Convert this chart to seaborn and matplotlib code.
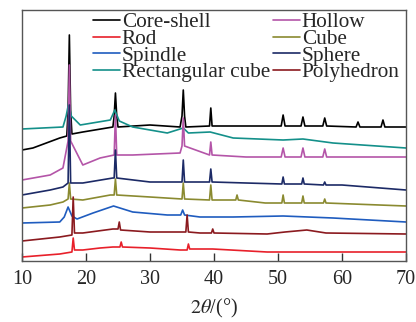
import matplotlib
matplotlib.use("Agg")
import matplotlib.pyplot as plt
import seaborn as sns
import pandas as pd

# ---- data (2theta in degrees, intensity offset in arbitrary units) ----
series_names = ["Core-shell", "Rod", "Spindle", "Rectangular cube",
                "Hollow", "Cube", "Sphere", "Polyhedron"]
colors = ["#000000", "#e8202a", "#1f5cbf", "#14908a",
          "#b455a8", "#8a8a30", "#1c2a66", "#8b1a1f"]

core_x = [10, 11.7, 15.9, 17.0, 17.2, 17.4, 17.6, 17.8, 19.5, 24.2, 24.4, 24.6, 24.8, 25.0, 30, 34.7, 35.0, 35.2, 35.4, 35.6, 39.3, 39.5, 39.7, 45, 50.5, 50.8, 51.1, 53.6, 53.9, 54.2, 57.0, 57.3, 57.6, 62.2, 62.5, 62.8, 66.1, 66.4, 66.7, 70]
core_y = [111, 113, 123, 125, 150, 226, 150, 127, 129, 134, 145, 168, 145, 134, 136, 134, 145, 171, 145, 134, 135, 153, 135, 135, 135, 146, 135, 135, 144, 135, 135, 143, 135, 134, 139, 134, 134, 141, 134, 134]

rod_x = [10, 15.9, 17.8, 18.0, 18.2, 19.5, 22.2, 24.2, 25.3, 25.5, 25.7, 30, 34.7, 35.8, 36.0, 36.2, 39.8, 48.3, 58.6, 70]
rod_y = [4, 7, 9, 23, 11, 11, 13, 14, 14, 19, 14, 13, 11, 11, 17, 12, 12, 9, 9, 9]

spin_x = [10, 15.9, 16.6, 17.2, 17.8, 18.6, 21.1, 24.3, 27.3, 32.7, 34.8, 35.1, 35.4, 37.8, 43, 50.8, 58.6, 70]
spin_y = [38, 39, 44, 54, 45, 42, 48, 55, 49, 46, 46, 51, 46, 44, 44, 45, 43, 39]

rect_x = [10, 16.4, 16.9, 17.3, 17.7, 19.1, 23.8, 24.5, 25.2, 27.3, 32.7, 35.2, 36.0, 39.4, 43, 50.8, 53.9, 58.6, 70]
rect_y = [132, 134, 145, 158, 145, 136, 141, 151, 140, 134, 128, 133, 128, 129, 123, 121, 122, 118, 113]

hol_x = [10, 14.4, 16.4, 17.2, 17.4, 17.6, 19.5, 22.2, 24.4, 24.6, 24.8, 27.3, 34.7, 35.0, 35.2, 35.4, 39.3, 39.5, 39.7, 45, 50.5, 50.8, 51.1, 53.6, 53.9, 54.2, 57.0, 57.3, 57.6, 70]
hol_y = [81, 86, 93, 120, 196, 120, 96, 103, 106, 146, 106, 106, 108, 115, 143, 115, 106, 119, 106, 104, 104, 113, 104, 104, 113, 104, 104, 112, 104, 104]

cube_x = [10, 14.4, 16.4, 17.2, 17.4, 17.6, 19.5, 23.8, 24.4, 24.6, 24.8, 30, 35.0, 35.2, 35.4, 39.3, 39.5, 39.7, 43.4, 43.6, 43.8, 48, 50.6, 50.8, 51.0, 53.7, 53.9, 54.1, 57.1, 57.3, 57.5, 70]
cube_y = [53, 56, 59, 62, 78, 62, 61, 66, 66, 82, 66, 64, 62, 78, 62, 61, 76, 61, 61, 66, 61, 58, 58, 66, 58, 58, 65, 58, 58, 62, 58, 55]

sph_x = [10, 14.4, 16.4, 17.2, 17.4, 17.6, 19.5, 24.2, 24.4, 24.6, 24.8, 30, 35.0, 35.2, 35.4, 39.3, 39.5, 39.7, 45, 50.6, 50.8, 51.0, 53.7, 53.9, 54.1, 57.1, 57.3, 57.5, 60, 70]
sph_y = [66, 71, 74, 78, 156, 78, 78, 83, 83, 111, 83, 79, 79, 101, 79, 79, 92, 79, 78, 77, 84, 77, 77, 83, 77, 76, 79, 76, 76, 71]

poly_x = [10, 15.9, 17.8, 18.0, 18.2, 19.5, 24.2, 25.0, 25.2, 25.4, 30, 35.6, 35.8, 36.0, 37.8, 39.6, 39.8, 40.0, 48.3, 51.1, 54.5, 57.5, 70]
poly_y = [20, 24, 26, 64, 28, 28, 32, 32, 39, 31, 29, 29, 46, 29, 28, 28, 32, 28, 27, 29, 31, 28, 27]

xs = [core_x, rod_x, spin_x, rect_x, hol_x, cube_x, sph_x, poly_x]
ys = [core_y, rod_y, spin_y, rect_y, hol_y, cube_y, sph_y, poly_y]

x_ticks = [10, 20, 30, 40, 50, 60, 70]

# ---- figure ----
sns.set_theme(style="white")
plt.rcParams["font.family"] = ["Liberation Serif", "DejaVu Serif"]
plt.rcParams["mathtext.fontset"] = "stix"

fig = plt.figure(figsize=(4.16, 3.22), dpi=100)
ax = fig.add_axes([22 / 416, 1 - 261 / 322, 384 / 416, 251 / 322])

for name, col, x, y in zip(series_names, colors, xs, ys):
    df = pd.DataFrame({"x": x, "y": y})
    sns.lineplot(data=df, x="x", y="y", ax=ax, color=col, lw=1.2,
                 label=name, estimator=None, sort=False)

ax.set_xlim(10, 70)
ax.set_ylim(0, 251)
ax.set_xticks(x_ticks)
ax.set_xticklabels([str(t) for t in x_ticks])
ax.set_yticks([])
ax.tick_params(axis="x", direction="in", length=6, width=1, color="#333333",
               labelsize=14.5, pad=6.5, bottom=True)
for s in ax.spines.values():
    s.set_color("#555555")
    s.set_linewidth(1.0)
ax.set_xlabel(r"$2\theta$/(°)", fontsize=14.5, labelpad=6)
ax.set_ylabel("")

ax.legend(ncol=2, loc="upper left", bbox_to_anchor=(0.185, 0.99),
          frameon=False, fontsize=15.3, handlelength=1.25, handletextpad=0.1,
          columnspacing=0.15, labelspacing=-0.15, borderpad=0.0,
          borderaxespad=0.0)

fig.savefig("out.png", dpi=100)
